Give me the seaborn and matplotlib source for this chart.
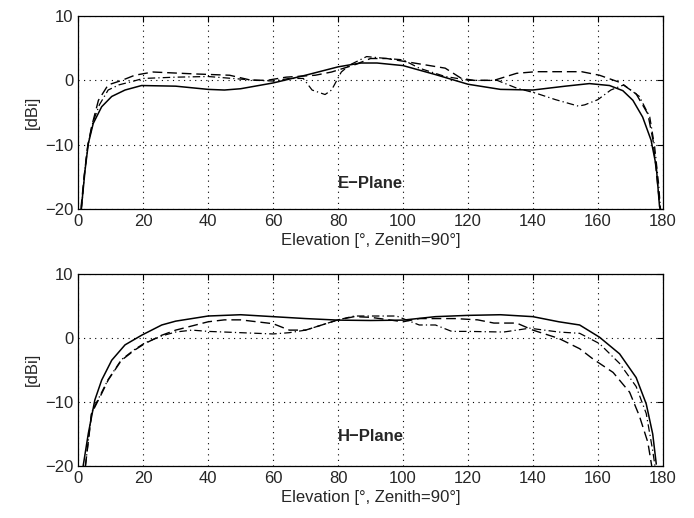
import matplotlib
matplotlib.use("Agg")
import matplotlib.pyplot as plt
import seaborn as sns

sns.set_style("white")
plt.rcParams['font.family'] = ['Liberation Sans', 'DejaVu Sans']

# E-plane curves (elevation deg, gain dBi)
e_solid_x = [1, 2.1, 3.1, 4.6, 7.2, 10.3, 14.4, 19.5, 30, 40, 45, 50, 60, 70, 80, 87, 92, 100, 110,
             120, 130, 140, 150, 157.4, 163.6, 167.7, 170.8, 173.8, 176.4, 178, 179, 179.3]
e_solid_y = [-19.6, -13.9, -9.8, -6.7, -4.1, -2.5, -1.5, -0.8, -0.9, -1.4, -1.5, -1.3, -0.4, 0.8, 2.1, 2.7, 2.7, 2.3, 0.9,
             -0.6, -1.4, -1.5, -0.9, -0.5, -0.8, -1.6, -3.1, -5.7, -9.3, -13.4, -19.6, -20]

e_dash_x = [0.8, 1.8, 2.8, 4.1, 6.2, 9.2, 13.4, 17.4, 23, 36, 46.6, 53, 58, 64, 73, 78, 85, 90, 95, 101,
            113, 118, 122, 128, 135, 141, 148, 155, 160.5, 166.7, 171.8, 175.4, 177, 178.5, 179.2]
e_dash_y = [-20, -15, -10.5, -7.2, -3.1, -0.7, 0, 0.8, 1.3, 1.0, 0.8, 0.05, 0, 0.5, 0.8, 1.3, 2.4, 3.4, 3.4, 2.9,
            1.9, 0.3, 0, 0, 1.1, 1.35, 1.35, 1.35, 0.8, -0.3, -2.1, -5.2, -9.3, -16.6, -20]

e_dd_x = [1, 1.9, 3, 4.5, 6.5, 9.2, 12.5, 16.4, 20, 30, 40, 50, 55, 60, 65, 69.3, 72, 76, 78, 81, 83.6, 88.8, 95, 100,
          105, 113, 120.5, 129, 135, 141, 147, 154, 156, 160, 164, 168, 172.8, 176, 177.5, 178.7, 179.3]
e_dd_y = [-20, -14.5, -10, -6.5, -3.8, -1.5, -0.7, -0.2, 0.3, 0.5, 0.6, 0.2, 0, -0.1, 0.3, 0.3, -1.5, -2.2, -1.5, 1.3, 2.4, 3.7, 3.4, 3.2,
          1.9, 0.6, 0, 0, -1.2, -2, -3, -4, -3.8, -3, -1.5, -0.7, -2.5, -5.7, -10.3, -16, -20]

# H-plane curves
h_solid_x = [1.5, 3.1, 5.1, 7.2, 10.3, 14.4, 19.5, 25.7, 30, 40, 50, 60, 70, 80, 90, 100, 110, 120, 130,
             140, 148, 154.4, 160.5, 166.7, 171.8, 174.9, 176.9, 178]
h_solid_y = [-20, -14.9, -9.7, -6.6, -3.5, -1.1, 0.4, 2.0, 2.6, 3.4, 3.6, 3.3, 3.0, 2.76, 2.7, 2.76, 3.3, 3.5, 3.6,
             3.3, 2.5, 2.0, 0.1, -2.5, -6.2, -10.3, -15, -19.7]

h_dash_x = [2.2, 4.1, 7.2, 9.2, 13.3, 17.4, 20.5, 25.7, 30, 40, 45, 50, 55, 60, 65, 70, 75, 80, 85, 90,
            100, 105, 116, 123, 128, 135, 140, 148, 154.4, 158.5, 164.7, 169.8, 172.8, 175.4, 176.6]
h_dash_y = [-20, -11.8, -8.7, -6.6, -3.5, -1.9, -0.9, 0.4, 1.2, 2.5, 2.8, 2.8, 2.5, 2.2, 1.2, 1.2, 2.0, 2.8, 3.3, 3.2,
            2.5, 3.0, 3.0, 2.8, 2.3, 2.3, 1.2, -0.1, -1.7, -3.3, -5.4, -8.5, -12.2, -16.3, -20]

h_dd_x = [2.2, 4.1, 7.2, 9.2, 13.3, 17.4, 20.5, 25.7, 30, 35, 40, 50, 60, 65, 70, 75, 80, 85, 90, 98,
          105, 110, 115, 120, 131, 139, 148, 154.4, 160.5, 166.7, 171.8, 174.9, 176.9, 177.6]
h_dd_y = [-20, -11.6, -8.5, -6.5, -3.4, -1.8, -0.8, 0.3, 0.9, 1.2, 1.0, 0.8, 0.6, 0.8, 1.2, 2.0, 2.8, 3.4, 3.4, 3.4,
          2.0, 2.0, 1.0, 1.0, 0.9, 1.5, 0.9, 0.7, -0.9, -4, -7.6, -11.8, -17.6, -20]

x_ticks = [0, 20, 40, 60, 80, 100, 120, 140, 160, 180]
y_ticks = [-20, -10, 0, 10]

fig = plt.figure(figsize=(6.94, 5.18), dpi=100)
ax1 = fig.add_axes([0.1128, 0.5965, 0.8422, 0.3725])
ax2 = fig.add_axes([0.1128, 0.1004, 0.8422, 0.3712])

panels = [
    (ax1, "E\u2212Plane", -16, (e_solid_x, e_solid_y), (e_dash_x, e_dash_y), (e_dd_x, e_dd_y)),
    (ax2, "H\u2212Plane", -15.4, (h_solid_x, h_solid_y), (h_dash_x, h_dash_y), (h_dd_x, h_dd_y)),
]

for ax, name, ty, solid, dash, dd in panels:
    sns.lineplot(x=solid[0], y=solid[1], ax=ax, color='black', lw=1.1, sort=False)
    sns.lineplot(x=dash[0], y=dash[1], ax=ax, color='black', lw=1.0, sort=False,
                 linestyle=(0, (7, 3.5)))
    sns.lineplot(x=dd[0], y=dd[1], ax=ax, color='black', lw=0.9, sort=False,
                 linestyle=(0, (6, 2.5, 1, 2.5)))
    ax.set_xlim(0, 180)
    ax.set_ylim(-20, 10)
    ax.set_xticks(x_ticks)
    ax.set_yticks(y_ticks)
    ax.set_yticklabels([f"{v}".replace("-", "\u2212") for v in y_ticks])
    ax.grid(True, color='black', linestyle=(0, (1, 4)), lw=0.8)
    ax.tick_params(direction='in', length=4, labelsize=12, top=True, right=True, color='black')
    for s in ax.spines.values():
        s.set_color('black')
        s.set_linewidth(0.9)
    ax.set_xlabel("Elevation [\u00b0, Zenith=90\u00b0]", fontsize=12, labelpad=3)
    ax.set_ylabel("[dBi]", fontsize=12, labelpad=4)
    ax.text(90, ty, name, ha='center', va='center', fontsize=12, fontweight='bold')

fig.savefig("out.png", dpi=100)
